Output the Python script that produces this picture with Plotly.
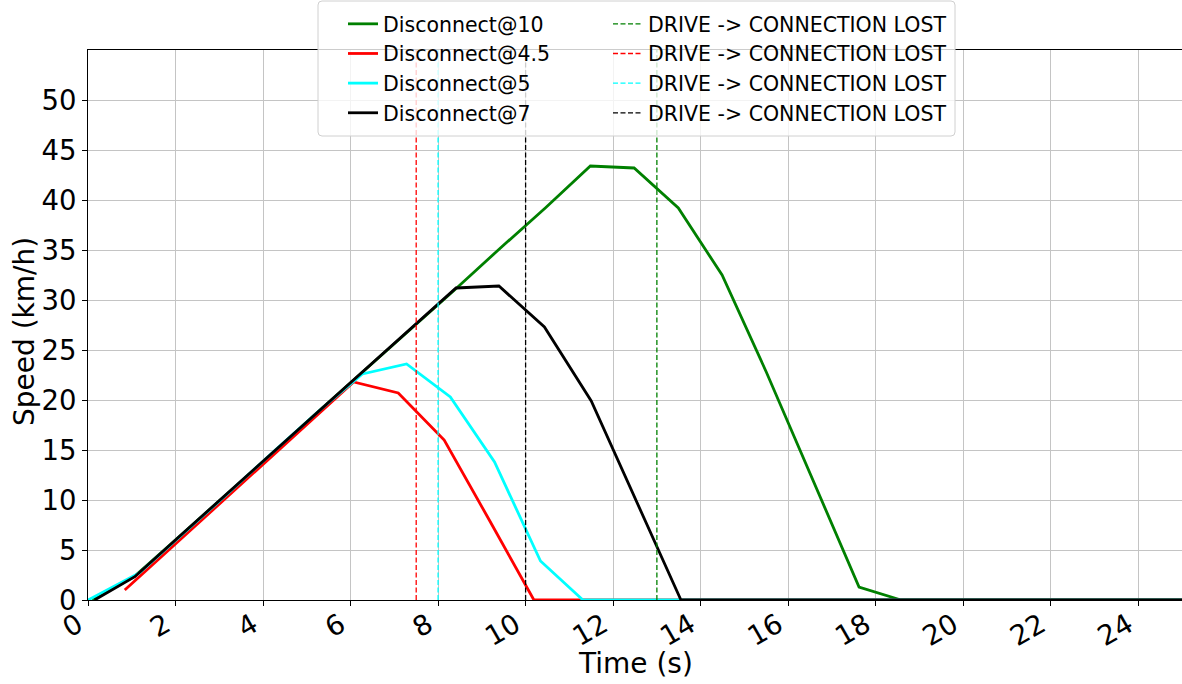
import plotly.graph_objects as go

# ---- data ----
t_d10 = [0.1, 1.07, 2.1, 3.1, 4.15, 5.2, 6.25, 7.3, 8.35, 9.4, 10.45, 11.48, 12.48, 13.49, 14.49,
         15.5, 16.55, 17.62, 18.58, 19.6, 20.6, 21.6, 22.6, 23.6, 24.6, 25.0]
v_d10 = [0.0, 2.4, 6.4, 10.3, 14.4, 18.6, 22.7, 26.8, 30.9, 35.1, 39.2, 43.4, 43.2, 39.2, 32.5,
         22.8, 12.2, 1.3, 0.0, 0.0, 0.0, 0.0, 0.0, 0.0, 0.0, 0.0]

t_d45 = [0.84, 1.87, 2.9, 3.95, 5.0, 6.07, 7.09, 8.14, 9.17, 10.19, 11.2, 12.2, 13.2, 14.2, 15.2,
         16.2, 17.2, 18.2, 19.2, 20.2, 21.2, 22.2, 23.2, 24.2, 25.0]
v_d45 = [1.0, 5.1, 9.2, 13.3, 17.5, 21.8, 20.7, 16.0, 8.0, 0.0, 0.0, 0.0, 0.0, 0.0, 0.0,
         0.0, 0.0, 0.0, 0.0, 0.0, 0.0, 0.0, 0.0, 0.0, 0.0]

t_d5 = [0.0, 1.17, 2.19, 3.21, 4.23, 5.25, 6.27, 7.28, 8.28, 9.29, 10.34, 11.31, 12.3, 13.3, 14.3,
        15.3, 16.3, 17.3, 18.3, 19.3, 20.3, 21.3, 22.3, 23.3, 24.3, 25.0]
v_d5 = [0.0, 2.7, 6.7, 10.7, 14.8, 18.8, 22.6, 23.6, 20.3, 13.8, 3.9, 0.0, 0.0, 0.0, 0.0,
        0.0, 0.0, 0.0, 0.0, 0.0, 0.0, 0.0, 0.0, 0.0, 0.0, 0.0]

t_d7 = [0.15, 1.07, 2.1, 3.12, 4.14, 5.16, 6.2, 7.3, 8.41, 9.39, 10.43, 11.5, 12.52, 13.55, 14.6,
        15.6, 16.6, 17.6, 18.6, 19.6, 20.6, 21.6, 22.6, 23.6, 24.6, 25.0]
v_d7 = [0.0, 2.33, 6.4, 10.4, 14.4, 18.4, 22.5, 26.8, 31.2, 31.4, 27.3, 19.9, 10.0, 0.0, 0.0,
        0.0, 0.0, 0.0, 0.0, 0.0, 0.0, 0.0, 0.0, 0.0, 0.0, 0.0]

series_names = ["Disconnect@10", "Disconnect@4.5", "Disconnect@5", "Disconnect@7"]
series_colors = ["#008000", "#ff0000", "#00ffff", "#000000"]
lost_times = [13.0, 7.5, 8.0, 10.0]
lost_label = "DRIVE -> CONNECTION LOST"

x_ticks = list(range(0, 25, 2))
y_ticks = list(range(0, 55, 5))
x_range = [0, 25]
y_range = [0, 55]
x_title = "Time (s)"
y_title = "Speed (km/h)"

# ---- figure ----
W, H = 1182, 684
L, R, T, B = 88, 0, 50, 84
pw, ph = W - L - R, H - T - B

def px_x(p):
    return (p - L) / pw

def px_y(p):
    return (H - B - p) / ph

fig = go.Figure()
times = [t_d10, t_d45, t_d5, t_d7]
speeds = [v_d10, v_d45, v_d5, v_d7]
for name, col, tt, vv in zip(series_names, series_colors, times, speeds):
    fig.add_trace(go.Scatter(x=tt, y=vv, mode="lines", name=name,
                             line=dict(color=col, width=2.8), legend="legend"))
for col, lt in zip(series_colors, lost_times):
    fig.add_trace(go.Scatter(x=[lt, lt], y=y_range, mode="lines", name=lost_label,
                             line=dict(color=col, width=1.3, dash="5px,2.5px"),
                             legend="legend2"))

# legend frame
x0, x1, y0, y1, r = 318, 955, 1, 136, 4
path = (f"M {px_x(x0+r)} {px_y(y0)} L {px_x(x1-r)} {px_y(y0)} "
        f"Q {px_x(x1)} {px_y(y0)} {px_x(x1)} {px_y(y0+r)} L {px_x(x1)} {px_y(y1-r)} "
        f"Q {px_x(x1)} {px_y(y1)} {px_x(x1-r)} {px_y(y1)} L {px_x(x0+r)} {px_y(y1)} "
        f"Q {px_x(x0)} {px_y(y1)} {px_x(x0)} {px_y(y1-r)} L {px_x(x0)} {px_y(y0+r)} "
        f"Q {px_x(x0)} {px_y(y0)} {px_x(x0+r)} {px_y(y0)} Z")
fig.add_shape(type="path", path=path, xref="paper", yref="paper",
              fillcolor="rgba(255,255,255,0.8)", line=dict(color="#d0d0d0", width=1),
              layer="above")

font = "DejaVu Sans"
legend_common = dict(bgcolor="rgba(0,0,0,0)", borderwidth=0, orientation="v",
                     font=dict(family=font, size=20.5, color="black"),
                     xanchor="left", yanchor="top", tracegroupgap=0)

# axis titles as annotations for exact placement
fig.add_annotation(text=x_title, xref="paper", yref="paper", x=px_x(635), y=px_y(663),
                   xanchor="center", yanchor="middle", showarrow=False,
                   font=dict(family=font, size=28, color="black"))
fig.add_annotation(text=y_title, xref="paper", yref="paper", x=px_x(24), y=px_y(332),
                   xanchor="center", yanchor="middle", showarrow=False, textangle=-90,
                   font=dict(family=font, size=28, color="black"))

fig.update_layout(
    width=W, height=H,
    margin=dict(l=L, r=R, t=T, b=B, autoexpand=False),
    paper_bgcolor="white", plot_bgcolor="white",
    font=dict(family=font, color="black"),
    legend=dict(x=px_x(343), y=px_y(4), **legend_common),
    legend2=dict(x=px_x(608), y=px_y(4), **legend_common),
    xaxis=dict(range=x_range, tickvals=x_ticks, ticktext=[str(v) for v in x_ticks],
               tickangle=-30, tickfont=dict(size=27.5, family=font),
               ticklabelshift=-10, ticklabelstandoff=-8, automargin=False,
               showgrid=True, gridcolor="#c4c4c4", gridwidth=1,
               showline=True, linecolor="black", linewidth=1.2, mirror=True,
               ticks="outside", ticklen=5, tickcolor="black",
               zeroline=False),
    yaxis=dict(range=y_range, tickvals=y_ticks, ticktext=[str(v) for v in y_ticks],
               tickfont=dict(size=27.5, family=font), automargin=False,
               showgrid=True, gridcolor="#c4c4c4", gridwidth=1,
               showline=True, linecolor="black", linewidth=1.2,
               ticks="outside", ticklen=5, tickcolor="black",
               zeroline=False),
)

fig.write_html("out.html")
